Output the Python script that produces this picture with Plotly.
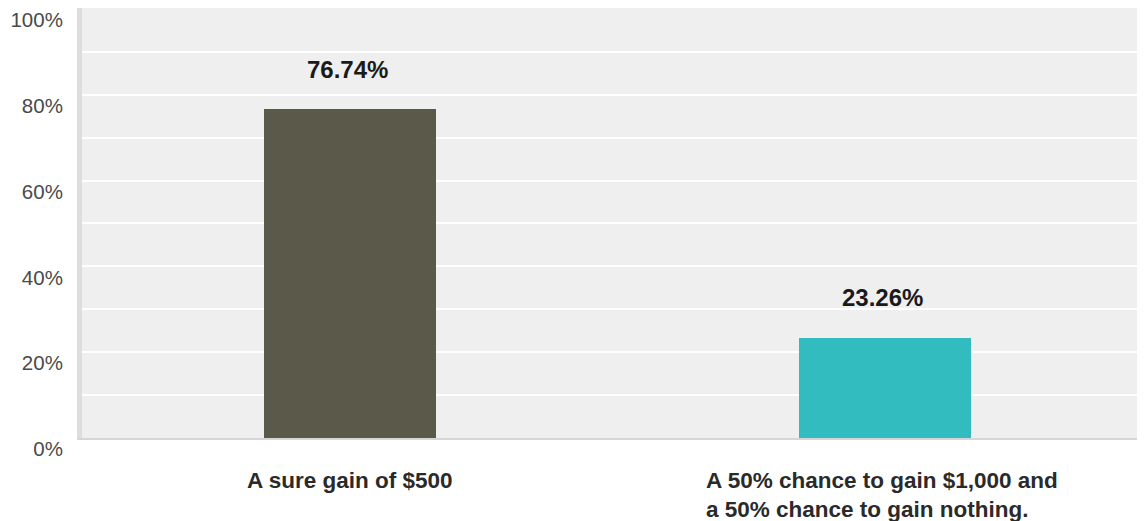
import plotly.graph_objects as go

categories = ["A sure gain of $500", "A 50% chance to gain $1,000 and<br>a 50% chance to gain nothing."]
values = [76.74, 23.26]
value_labels = ["76.74%", "23.26%"]
colors = ["#5b594a", "#33bcbf"]
ytick_vals = [0, 20, 40, 60, 80, 100]
ytick_text = ["0%", "20%", "40%", "60%", "80%", "100%"]

xpos = list(range(len(categories)))

fig = go.Figure()
fig.add_trace(go.Bar(
    x=xpos, y=values, marker=dict(color=colors, line=dict(width=0)),
    width=0.323, hoverinfo="skip"
))

font_family = "Liberation Sans, Arial, sans-serif"
annotations = []
for x, v, t, ys in zip(xpos, values, value_labels, [39, 41]):
    annotations.append(dict(x=x, y=v, xref="x", yref="y", text="<b>%s</b>" % t,
                            showarrow=False, yshift=ys, xshift=-3,
                            font=dict(size=24, color="#1a1a1a", family=font_family)))
for x, c, xs in zip(xpos, categories, [0, -3]):
    annotations.append(dict(x=x, y=0, xref="x", yref="paper", text="<b>%s</b>" % c,
                            showarrow=False, align="left", xanchor="center", yanchor="top",
                            yshift=-28, xshift=xs,
                            font=dict(size=22.5, color="#2a2a2a", family=font_family)))

fig.update_layout(
    width=1137, height=513,
    margin=dict(l=74, r=0, t=0, b=83),
    paper_bgcolor="white", plot_bgcolor="#efefef",
    showlegend=False,
    bargap=0,
    annotations=annotations,
    font=dict(family=font_family),
)
fig.update_xaxes(range=[-0.501, 1.486], showticklabels=False, showgrid=False,
                 zeroline=False, showline=True, linecolor="#d6d6d6", linewidth=2,
                 fixedrange=True)
fig.update_yaxes(range=[0, 100.2], tickvals=ytick_vals, ticktext=ytick_text,
                 showgrid=True, gridcolor="white", gridwidth=2,
                 minor=dict(dtick=10, showgrid=True, gridcolor="white", gridwidth=2),
                 zeroline=False, showline=True, linecolor="#dddddd", linewidth=5,
                 ticks="", ticklabelstandoff=10, ticklabelshift=11,
                 tickfont=dict(size=20.5, color="#4a4a4a", family=font_family),
                 fixedrange=True)

fig.write_html("out.html")
